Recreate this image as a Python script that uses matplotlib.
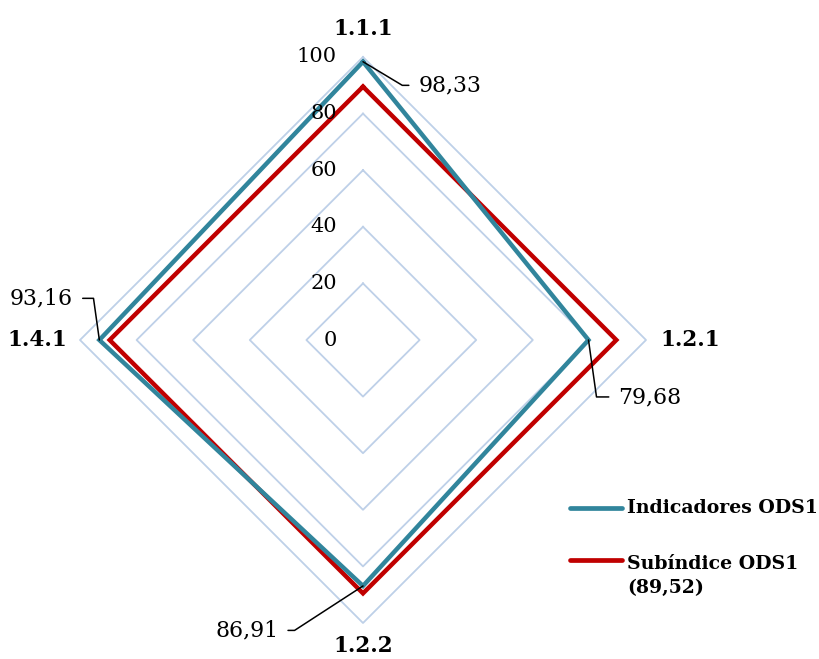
import numpy as np
import matplotlib.pyplot as plt
from matplotlib.lines import Line2D

# Data
categories = ['1.1.1', '1.2.1', '1.2.2', '1.4.1']
indicadores = [98.33, 79.68, 86.91, 93.16]
subindice = [89.52, 89.52, 89.52, 89.52]
value_labels = ['98,33', '79,68', '86,91', '93,16']
ticks = [0, 20, 40, 60, 80, 100]

plt.rcParams['font.family'] = ['DejaVu Serif']

BLUE = '#31859C'
RED = '#C00000'
GRID = '#BED0E8'

fig = plt.figure(figsize=(8.2, 6.59), dpi=100)
ax = fig.add_axes([0, 0, 1, 1])
# centre of the radar at pixel (363, 340), 2.83 px per unit
scale = 2.83
ax.set_xlim(-363 / scale, (820 - 363) / scale)
ax.set_ylim(-(659 - 340) / scale, 340 / scale)
ax.axis('off')

angles = np.pi / 2 - np.arange(len(categories)) * 2 * np.pi / len(categories)


def to_xy(vals):
    vals = np.asarray(vals, dtype=float)
    x = vals * np.cos(angles)
    y = vals * np.sin(angles)
    return np.append(x, x[0]), np.append(y, y[0])


# grid polygons
for t in ticks[1:]:
    gx, gy = to_xy([t] * len(categories))
    ax.plot(gx, gy, color=GRID, lw=1.3, zorder=1)

# radial tick labels
for t in ticks:
    ax.text(-9.2, t, str(t), ha='right', va='center', fontsize=15, zorder=5)

# series
sx, sy = to_xy(subindice)
ax.plot(sx, sy, color=RED, lw=3.2, solid_joinstyle='miter', zorder=3)
ix, iy = to_xy(indicadores)
ax.plot(ix, iy, color=BLUE, lw=3.2, solid_joinstyle='miter', zorder=4)

# category labels
label_r = [110, 115.5, 108, 115]
for cat, a, r in zip(categories, angles, label_r):
    ax.text(r * np.cos(a), r * np.sin(a), cat, ha='center', va='center',
            fontsize=15.5, fontweight='bold')

# value labels with leader lines
offsets = [(40, -17), (21.6, -41), (-61, -32), (-19, 30)]
leader_ang = [-31, -82, 33, 98]
for v, a, lab, off, la in zip(indicadores, angles, value_labels, offsets, leader_ang):
    x, y = v * np.cos(a), v * np.sin(a)
    right = off[0] > 0
    ax.annotate(lab, xy=(x, y), xytext=off, textcoords='offset points',
                ha='left' if right else 'right', va='center', fontsize=15.8,
                arrowprops=dict(arrowstyle='-', color='black', lw=1.1,
                                shrinkA=5, shrinkB=0,
                                relpos=(0, 0.5) if right else (1, 0.5),
                                connectionstyle=f'angle,angleA=0,angleB={la},rad=0'),
                zorder=6)

# legend (drawn by hand)
def px(x, y):
    return x / 820, 1 - y / 659


for (y, col, txt, ty) in [(508, BLUE, 'Indicadores ODS1', 508),
                          (560, RED, 'Subíndice ODS1\n(89,52)', 576)]:
    x0, y0 = px(570, y)
    x1, _ = px(622, y)
    fig.add_artist(Line2D([x0, x1], [y0, y0], color=col, lw=3.4,
                          solid_capstyle='round', transform=fig.transFigure))
    tx, tyf = px(627, ty)
    fig.text(tx, tyf, txt, ha='left', va='center', fontsize=13.6,
             fontweight='bold', linespacing=1.45)

fig.savefig('out.png', dpi=100)
